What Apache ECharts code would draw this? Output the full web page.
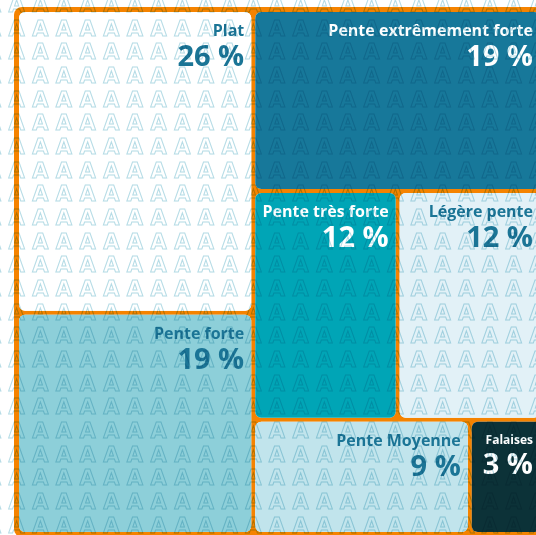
<!DOCTYPE html>
<html>
<head>
<meta charset="utf-8">
<script src="https://cdn.jsdelivr.net/npm/echarts@6/dist/echarts.min.js"></script>
<style>
  html, body { margin: 0; padding: 0; background: #fff; }
  #main { width: 536px; height: 535px; }
</style>
</head>
<body>
<div id="main"></div>
<script>
// classes de pente (part en %)
// ordre choisi pour que les ex-aequo soient placés comme sur l'original
var names = ['Plat', 'Pente extrêmement forte', 'Pente forte', 'Légère pente', 'Pente très forte', 'Pente Moyenne', 'Falaises'];
var values = [26, 19, 19, 12, 12, 9, 3];
var colors = ['#ffffff', '#17789a', '#8dcfd9', '#e2f1f7', '#00a5b6', '#c1e4ec', '#0c3238'];
var textColors = ['#1b7596', '#ffffff', '#1b7596', '#1b7596', '#ffffff', '#1b7596', '#ffffff'];

// motif de "A" en fond
function makePattern() {
    var c = document.createElement('canvas');
    var size = 71, step = size / 3;
    c.width = size; c.height = size;
    var ctx = c.getContext('2d');
    ctx.font = 'bold 21px "DejaVu Sans"';
    ctx.textBaseline = 'top';
    ctx.strokeStyle = '#b6dce6';
    ctx.lineWidth = 1;
    for (var i = -1; i <= 3; i++) {
        for (var j = -1; j <= 3; j++) {
            ctx.strokeText('A', 8.5 + step * i, -4 + step * j);
        }
    }
    return c;
}

function optionConfig() {
    var data = names.map(function (n, i) {
        var item = {
            name: n,
            value: values[i],
            itemStyle: { color: colors[i] },
            label: { color: textColors[i] }
        };
        if (n === 'Falaises') {
            item.label.rich = { n: { fontSize: 12, lineHeight: 17 } };
        }
        return item;
    });
    return {
        animation: false,
        graphic: [{
            type: 'rect',
            silent: true,
            z: 100,
            shape: { x: 0, y: 0, width: 536, height: 535 },
            style: { fill: { image: makePattern(), repeat: 'repeat' }, blend: 'multiply' }
        }],
        series: [{
            type: 'treemap',
            left: 14,
            top: 7,
            width: 531,
            height: 530,
            squareRatio: 1,
            roam: false,
            nodeClick: false,
            breadcrumb: { show: false },
            levels: [{
                itemStyle: { borderColor: '#f58300', borderWidth: 5, gapWidth: 4, borderRadius: 8 }
            }, {
                itemStyle: { borderWidth: 0, borderRadius: 6 }
            }],
            label: {
                show: true,
                position: 'insideTopRight',
                distance: 2,
                padding: [8, 5, 0, 0],
                overflow: 'none',
                fontFamily: 'Open Sans',
                formatter: function (p) {
                    return '{n|' + p.name + '}\n{v|' + p.value + ' %}';
                },
                rich: {
                    n: { fontSize: 16, fontWeight: 'bold', fontFamily: 'Open Sans', align: 'right', lineHeight: 19 },
                    v: { fontSize: 29, fontWeight: 'bold', fontFamily: 'Open Sans', align: 'right', lineHeight: 34 }
                }
            },
            upperLabel: { show: false },
            data: data
        }]
    };
}

var myChart = echarts.init(document.getElementById('main'));
myChart.setOption(optionConfig());
</script>
</body>
</html>
